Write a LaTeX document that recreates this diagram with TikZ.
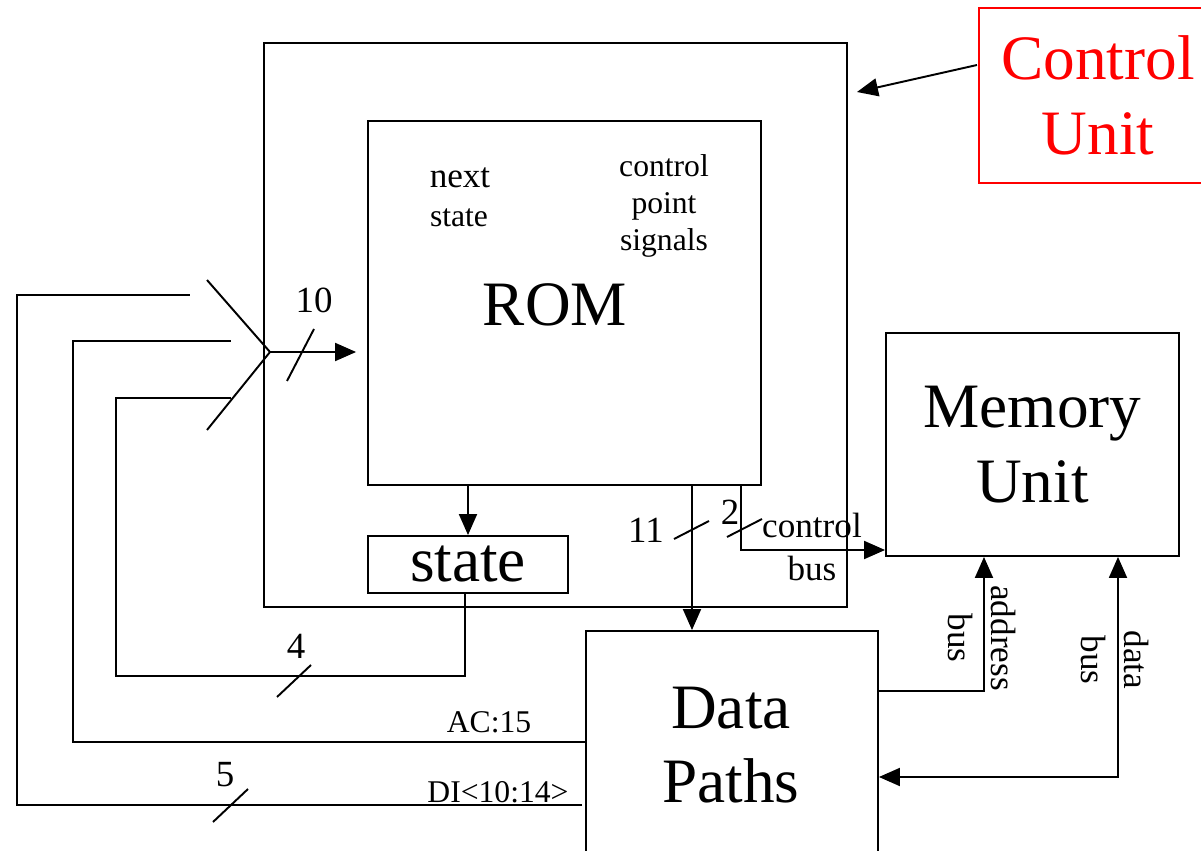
\documentclass[tikz,border=0pt]{standalone}
\usepackage{fontspec}
\setmainfont{Liberation Serif}
\usetikzlibrary{arrows.meta}
\tikzset{
  wire/.style={line width=1.1pt},
  arr/.style={wire,-{Triangle[length=0.42cm,width=0.36cm]}},
  arrboth/.style={wire,{Triangle[length=0.42cm,width=0.36cm]}-{Triangle[length=0.42cm,width=0.36cm]}},
  box/.style={draw,line width=1.1pt,inner sep=0pt,align=center},
  bigtext/.style={font=\fontsize{36}{42.5}\selectfont},
  smalltext/.style={inner sep=0pt,align=center,font=\fontsize{18}{21}\selectfont},
  widthtext/.style={inner sep=0pt,align=center,font=\fontsize{21}{24}\selectfont},
  bustext/.style={inner sep=0pt,align=center,font=\fontsize{20}{25}\selectfont}
}
\begin{document}
\begin{tikzpicture}[x=0.02cm,y=-0.02cm]
\useasboundingbox (0,0) rectangle (1201,851);
\clip (0,0) rectangle (1201,851);

% blocks
\node[box,minimum width=11.66cm,minimum height=11.28cm] (cu) at (555.5,325) {};
\node[box,minimum width=7.86cm,minimum height=7.28cm] (rom) at (564.5,303) {};
\node[box,bigtext,minimum width=4cm,minimum height=1.14cm] (statebox) at (468,564.5) {state};
\node[box,bigtext,minimum width=5.86cm,minimum height=4.46cm] (mem) at (1032.5,444.5) {Memory\\Unit};
\node[box,minimum width=5.84cm,minimum height=4.98cm] (dp) at (732,755.5) {};
\node[box,bigtext,draw=red,text=red,line width=0.9pt,minimum width=4.76cm,minimum height=3.5cm] (cubox) at (1098,95.5) {Control\\Unit};

% texts inside the ROM and the data paths
\node[bigtext,inner sep=0pt] (romlbl) at (555,305) {ROM};
\node[inner sep=0pt,font=\fontsize{20}{20}\selectfont] (nextlbl) at (460,178) {next};
\node[inner sep=0pt,font=\fontsize{18}{18}\selectfont] (statelbl) at (459,218) {state};
\node[smalltext] (cplbl) at (664,206) {control\\point\\signals};
\node[bigtext,inner sep=0pt,align=center] (dplbl) at (731,745) {Data\\Paths};

% control unit pointer
\coordinate (cuarrow) at (977,65);
\draw[arr] (cuarrow) -- (857,92);

% multiplexer at the ROM address input
\coordinate (mx) at (270,352);
\coordinate (muxtop) at (207,280);
\coordinate (muxbot) at (207,430);
\draw[wire,line join=miter] (muxtop) -- (mx) -- (muxbot);
\draw[arr,shorten >=0.22cm] (mx) -- (mx -| rom.west);
\draw[wire] (287,381) -- (314,329);
\node[widthtext] (n10) at (314,300) {10};

% ROM outputs
\draw[arr] (rom.south -| statebox.north) -- (statebox.north);
\coordinate (romo) at (692,485);
\draw[arr] (romo) -- (romo |- dp.north);
\draw[wire] (674,539) -- (709,521);
\node[widthtext] (n11) at (646,530) {11};

\coordinate (cbo) at (741,485);
\coordinate (cbk) at (741,550);
\draw[arr] (cbo) -- (cbk) -- (cbk -| mem.west);
\draw[wire] (727,537) -- (762,519);
\node[widthtext] (n2) at (730,512) {2};
\node[bustext] (cbus) at (812,547) {control\\bus};

% address bus
\coordinate (ab) at (984,691);
\draw[arr] (ab -| dp.east) -- (ab) -- (ab |- mem.south);
\node[bustext,rotate=-90] (abus) at (982,638) {address\\bus};

% data bus
\coordinate (db) at (1118,777);
\draw[arrboth] (db -| dp.east) -- (db) -- (db |- mem.south);
\node[bustext,rotate=-90] (dbus) at (1115,660) {data\\bus};

% state feedback
\coordinate (sf1) at (465,676);
\coordinate (sf2) at (116,676);
\coordinate (sf3) at (116,398);
\coordinate (sf4) at (231,398);
\draw[wire] (sf1 |- statebox.south) -- (sf1) -- (sf2) -- (sf3) -- (sf4);
\draw[wire] (277,697) -- (311,665);
\node[widthtext] (n4) at (296,646) {4};

% accumulator sign
\coordinate (ac1) at (73,742);
\coordinate (ac2) at (73,341);
\coordinate (ac3) at (231,341);
\draw[wire] (ac1 -| dp.west) -- (ac1) -- (ac2) -- (ac3);
\node[smalltext] (aclbl) at (489,722) {AC:15};

% instruction bits
\coordinate (di0) at (582,805);
\coordinate (di1) at (17,805);
\coordinate (di2) at (17,295);
\coordinate (di3) at (190,295);
\draw[wire] (di0) -- (di1) -- (di2) -- (di3);
\draw[wire] (213,822) -- (248,789);
\node[widthtext] (n5) at (225,775) {5};
\node[smalltext] (dilbl) at (498,792) {DI<10:14>};
\end{tikzpicture}
\end{document}
